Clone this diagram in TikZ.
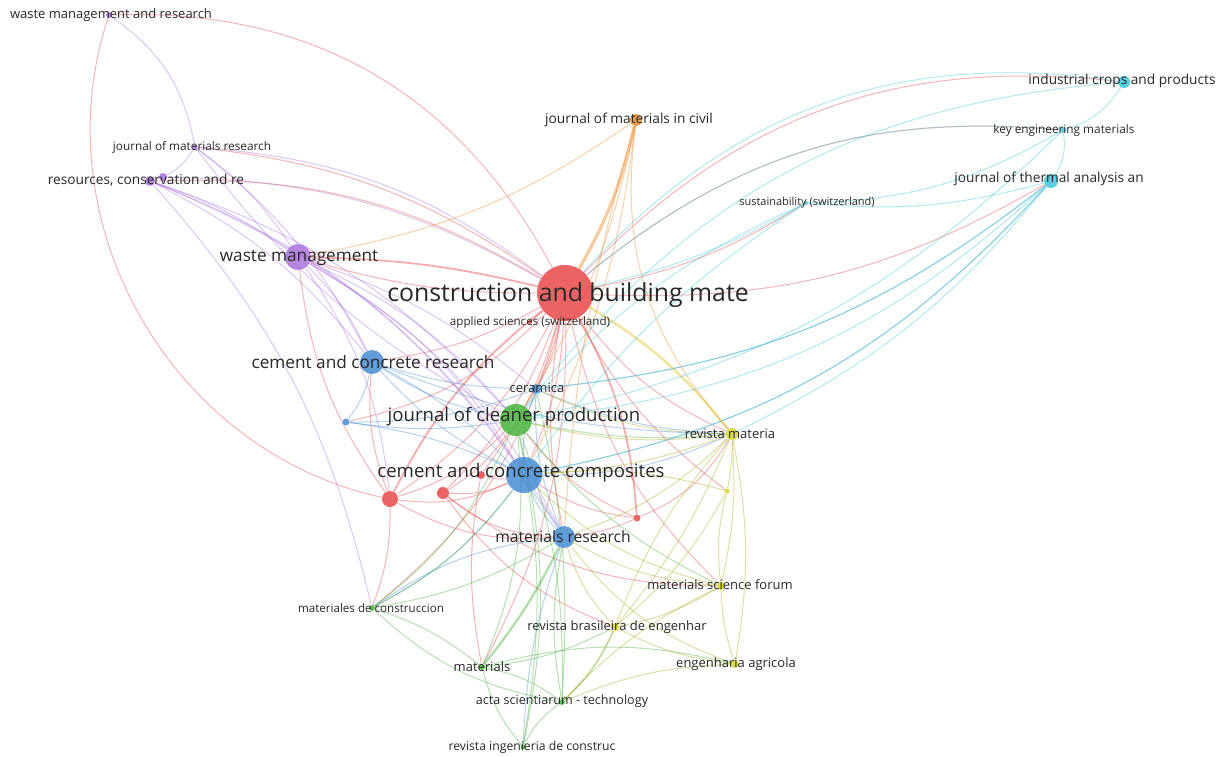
\documentclass[tikz,border=0pt]{standalone}
\usepackage{fontspec}
\setmainfont{Open Sans}
\usetikzlibrary{backgrounds}

\definecolor{cred}{RGB}{232,72,72}
\definecolor{cgreen}{RGB}{72,178,60}
\definecolor{cblue}{RGB}{70,140,210}
\definecolor{cpurple}{RGB}{170,115,220}
\definecolor{corange}{RGB}{238,140,45}
\definecolor{ccyan}{RGB}{60,200,220}
\definecolor{cyellow}{RGB}{215,215,40}
\definecolor{labelgray}{RGB}{40,40,40}

\tikzset{
  jnode/.style={circle, fill=#1, fill opacity=0.85, draw=none, inner sep=0pt},
  jlabel/.style={text=labelgray, inner sep=0pt},
  lbig/.style={jlabel, font=\fontsize{12.4}{13}\selectfont},
  lmid/.style={jlabel, font=\fontsize{9.3}{10}\selectfont},
  lsub/.style={jlabel, font=\fontsize{8.6}{9}\selectfont},
  lsmall/.style={jlabel, font=\fontsize{6.85}{7}\selectfont},
  ltiny/.style={jlabel, font=\fontsize{6.5}{7}\selectfont},
  lmini/.style={jlabel, font=\fontsize{5.9}{6}\selectfont},
  link/.style={draw=#1, line width=0.5pt, draw opacity=0.4},
  fatlink/.style={draw=#1, line width=1.6pt, draw opacity=0.45},
}

\begin{document}
\begin{tikzpicture}[x=0.5pt, y=-0.5pt]
  \useasboundingbox (0,0) rectangle (1227,756);

  % journals (circles)
  \node[jnode=cred, minimum size=28pt] (cbm) at (565,293) {};
  \node[jnode=cred, minimum size=2pt] (aps) at (530,322) {};
  \node[jnode=cred, minimum size=8pt] (rA) at (390,499) {};
  \node[jnode=cred, minimum size=6pt] (rB) at (443,493) {};
  \node[jnode=cred, minimum size=4pt] (rC) at (481,475) {};
  \node[jnode=cred, minimum size=3.5pt] (rD) at (637,518) {};

  \node[jnode=cgreen, minimum size=16pt] (jcp) at (516,420) {};
  \node[jnode=cgreen, minimum size=3pt] (mdc) at (372,608) {};
  \node[jnode=cgreen, minimum size=3pt] (mat) at (482,667) {};
  \node[jnode=cgreen, minimum size=3pt] (acta) at (562,702) {};
  \node[jnode=cgreen, minimum size=2.5pt] (ric) at (523,747) {};

  \node[jnode=cblue, minimum size=18pt] (ccc) at (524,475) {};
  \node[jnode=cblue, minimum size=12pt] (ccr) at (372,362) {};
  \node[jnode=cblue, minimum size=5pt] (cer) at (536,389) {};
  \node[jnode=cblue, minimum size=3.5pt] (bsm) at (346,422) {};
  \node[jnode=cblue, minimum size=11pt] (mr) at (564,537) {};

  \node[jnode=cpurple, minimum size=13pt] (wm) at (298,257) {};
  \node[jnode=cpurple, minimum size=3pt] (wmr) at (109,15) {};
  \node[jnode=cpurple, minimum size=2.5pt] (jmr) at (195,147) {};
  \node[jnode=cpurple, minimum size=5pt] (rcr) at (150,181) {};
  \node[jnode=cpurple, minimum size=4pt] (rcrb) at (163,177) {};

  \node[jnode=corange, minimum size=6pt] (jmc) at (636,120) {};

  \node[jnode=ccyan, minimum size=6pt] (icp) at (1124,82) {};
  \node[jnode=ccyan, minimum size=3pt] (kem) at (1063,130) {};
  \node[jnode=ccyan, minimum size=7pt] (jta) at (1051,181) {};
  \node[jnode=ccyan, minimum size=2pt] (sus) at (806,203) {};

  \node[jnode=cyellow, minimum size=6pt] (rm) at (732,434) {};
  \node[jnode=cyellow, minimum size=2.5pt] (ys) at (727,491) {};
  \node[jnode=cyellow, minimum size=4pt] (msf) at (721,586) {};
  \node[jnode=cyellow, minimum size=4pt] (rbe) at (615,627) {};
  \node[jnode=cyellow, minimum size=4pt] (ea) at (735,664) {};

  % links
  \begin{pgfonlayer}{background}
    \fill[white] (0,0) rectangle (1227,756);
    \foreach \a/\b/\bd in {cbm/wm/8, cbm/ccr/10, cbm/jcp/12, cbm/ccc/10, cbm/mr/-10,
        cbm/rA/14, cbm/rB/12, cbm/rC/10, cbm/cer/6, cbm/rcr/-16, cbm/jmr/-14,
        cbm/wmr/-32, cbm/jta/-16, cbm/kem/22, cbm/icp/26, cbm/rm/-14, cbm/mdc/18,
        cbm/mat/14, cbm/msf/-16, cbm/ys/-12, cbm/bsm/16, cbm/sus/-10, cbm/aps/0,
        rA/ccc/-16, rA/jcp/-14, rA/ccr/12, rA/mdc/10, rA/wm/14, rA/mr/-16,
        rB/ccc/-14, rB/mr/-18, rB/msf/-18, rB/jcp/-12, rB/rbe/-16, rA/wmr/48,
        rC/ccc/-12, rD/ccc/12, rD/rm/-18, rD/jcp/14, rD/mr/8, rC/mat/-10}
      \draw[link=cred] (\a) to[bend left=\bd] (\b);
    \foreach \a/\b/\bd in {cbm/rD/12, cbm/wm/-6, cbm/rA/-12}
      \draw[fatlink=cred, line width=0.9pt] (\a) to[bend left=\bd] (\b);

    \foreach \a/\b/\bd in {wm/rcr/-8, wm/jmr/-10, wmr/jmr/22, wm/ccr/10, wm/jcp/12,
        wm/ccc/14, wm/mr/16, wm/cer/10, rcr/jmr/-20, rcr/ccr/12, rcr/jcp/14,
        rcr/ccc/16, rcrb/cbm/14, jmr/cbm/16, jmr/jcp/-12, rcr/mr/18, wm/rA/14,
        rcr/mdc/14, jmr/ccr/12}
      \draw[link=cpurple] (\a) to[bend left=\bd] (\b);

    \foreach \a/\b/\bd in {ccr/jcp/-10, ccr/ccc/-10, ccr/cer/-8, ccr/bsm/12, bsm/jcp/-8,
        bsm/ccc/8, bsm/cer/-10, ccc/mr/-10, cer/mr/-12, ccc/cer/10, ccc/rm/-12,
        mr/mdc/-14, ccr/rm/-10, ccc/jta/-18, cer/jta/-16, ccr/mr/14, cer/rm/-10,
        ccc/mdc/12, mr/ric/-8}
      \draw[link=cblue] (\a) to[bend left=\bd] (\b);

    \foreach \a/\b/\bd in {jcp/mat/14, jcp/mdc/14, jcp/acta/10, jcp/ric/12, mat/mdc/-10,
        mat/acta/12, mat/ric/-12, acta/ric/-14, mdc/acta/-16, mdc/ccc/-12, jcp/rm/-8,
        mat/rbe/-10, acta/rbe/-12, mat/ea/14, jcp/msf/-12, mdc/mr/-10, acta/mr/10,
        ric/jcp/-10, acta/cer/-8}
      \draw[link=cgreen] (\a) to[bend left=\bd] (\b);
    \draw[fatlink=cgreen, line width=1.1pt] (mat) to[bend left=-6] (mr);

    \foreach \a/\b/\bd in {rm/rbe/-10, rm/msf/8, rm/ea/10, rm/ys/6, rm/mr/12,
        msf/rbe/10, msf/ea/-8, msf/mr/12, rbe/mr/12, rbe/ea/-10, ys/msf/-10,
        ys/ccc/-10, rm/jcp/10, msf/acta/-10, rbe/acta/10, rm/ccc/8, rm/cer/12,
        msf/ccc/14, ea/mr/16, ea/acta/-10, ys/rbe/10, rm/rbe/8}
      \draw[link=cyellow!80!black] (\a) to[bend left=\bd] (\b);
    \draw[fatlink=cyellow!80!orange, line width=1.2pt] (rm) to[bend left=-10] (cbm);

    \foreach \a/\b/\bd in {jmc/rm/-24, jmc/ccc/10, jmc/jcp/10, jmc/wm/12, jmc/mr/-6}
      \draw[link=corange] (\a) to[bend left=\bd] (\b);
    \draw[fatlink=corange] (jmc) to[bend left=8] (cbm);

    \foreach \a/\b/\bd in {jta/kem/-20, kem/icp/-20, icp/cbm/-28, kem/cbm/-22, jta/sus/10,
        jta/ccc/18, jta/jcp/18, jta/rm/12, jta/cer/16, sus/cbm/8, sus/ccc/-10,
        sus/jcp/-12, kem/jcp/16, icp/jcp/-24, kem/sus/14}
      \draw[link=ccyan] (\a) to[bend left=\bd] (\b);
  \end{pgfonlayer}

  % labels
  \node[lbig] at (568,295) {construction and building mate};
  \node[jlabel, font=\fontsize{5.8}{6}\selectfont] at (530,322) {applied sciences (switzerland)};
  \node[lmid] at (514,417) {journal of cleaner production};
  \node[lmid] at (521,473) {cement and concrete composites};
  \node[lsub] at (373,362) {cement and concrete research};
  \node[lsub] at (299,258) {waste management};
  \node[jlabel, font=\fontsize{7.85}{8}\selectfont] at (563,537) {materials research};
  \node[ltiny] at (537,388) {ceramica};
  \node[jlabel, font=\fontsize{5.8}{6}\selectfont] at (371,608) {materiales de construccion};
  \node[ltiny] at (482,667) {materials};
  \node[jlabel, font=\fontsize{6.3}{7}\selectfont] at (562,701) {acta scientiarum - technology};
  \node[jlabel, font=\fontsize{6.1}{7}\selectfont] at (532,747) {revista ingenieria de construc};
  \node[ltiny] at (111,15) {waste management and research};
  \node[lmini] at (192,147) {journal of materials research};
  \node[lsmall] at (146,180) {resources, conservation and re};
  \node[lsmall] at (629,120) {journal of materials in civil};
  \node[lsmall] at (1122,81) {industrial crops and products};
  \node[lmini] at (1064,130) {key engineering materials};
  \node[lsmall] at (1049,179) {journal of thermal analysis an};
  \node[jlabel, font=\fontsize{5.5}{6}\selectfont] at (807,203) {sustainability (switzerland)};
  \node[ltiny] at (730,434) {revista materia};
  \node[ltiny] at (720,585) {materials science forum};
  \node[ltiny] at (617,627) {revista brasileira de engenhar};
  \node[ltiny] at (736,664) {engenharia agricola};
\end{tikzpicture}
\end{document}
